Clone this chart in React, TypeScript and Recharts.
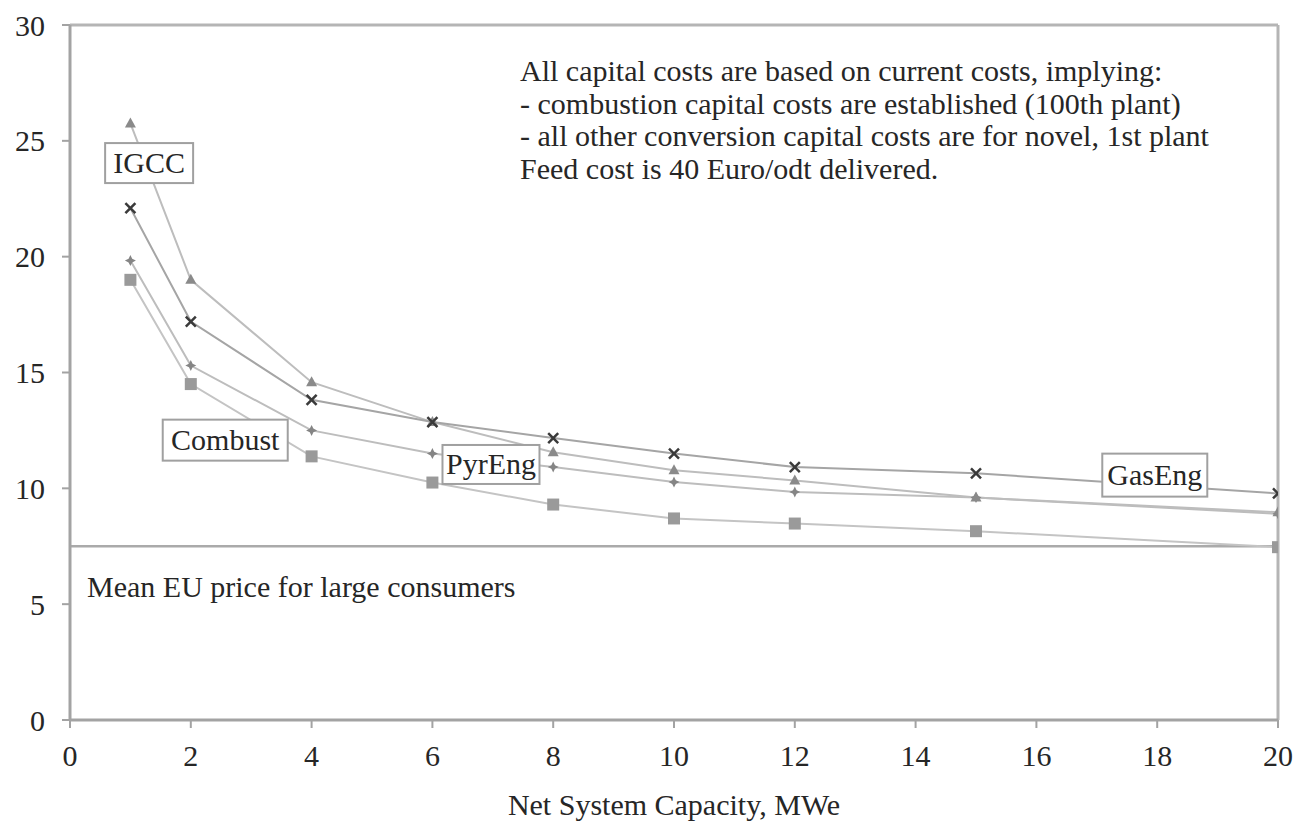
import React from 'react';
import { LineChart, Line, XAxis, YAxis, ReferenceLine, ReferenceDot } from 'recharts';

// ---- data ----
const capacities = [1, 2, 4, 6, 8, 10, 12, 15, 20];
const igccCost = [25.75, 19.0, 14.58, 12.86, 11.56, 10.78, 10.34, 9.6, 8.97];
const gasEngCost = [22.1, 17.2, 13.82, 12.86, 12.17, 11.5, 10.92, 10.65, 9.78];
const pyrEngCost = [19.83, 15.3, 12.5, 11.5, 10.92, 10.27, 9.84, 9.6, 8.9];
const combustCost = [19.0, 14.5, 11.38, 10.25, 9.3, 8.7, 8.48, 8.15, 7.46];
const xTicks = [0, 2, 4, 6, 8, 10, 12, 14, 16, 18, 20];
const yTicks = [0, 5, 10, 15, 20, 25, 30];
const euPrice = 7.5;
const labelNames = ['IGCC', 'Combust', 'PyrEng', 'GasEng'];
const labelX = [1.31, 2.57, 6.97, 17.96];
const labelY = [24.04, 12.08, 11.03, 10.57];
const noteLines = [
  'All capital costs are based on current costs, implying:',
  '- combustion capital costs are established (100th plant)',
  '- all other conversion capital costs are for novel, 1st plant',
  'Feed cost is 40 Euro/odt delivered.',
];
const euLabel = 'Mean EU price for large consumers';
const xTitle = 'Net System Capacity, MWe';

// ---- styles ----
const labelBoxWidth = [88, 125, 97, 105];
const labelBoxHeight = [40, 41, 39, 43];
const FONT = '"Liberation Serif", "Times New Roman", serif';
const TEXT = '#262626';
const AXIS = '#a3a3a3';

const data = capacities.map((x, i) => ({
  x,
  igcc: igccCost[i],
  gasEng: gasEngCost[i],
  pyrEng: pyrEngCost[i],
  combust: combustCost[i],
}));

const TriangleDot = (p: any) => {
  const { cx, cy, key } = p;
  if (cx == null || cy == null) return <g key={key} />;
  return (
    <polygon
      key={key}
      points={`${cx},${cy - 6} ${cx + 5.5},${cy + 4} ${cx - 5.5},${cy + 4}`}
      fill="#8a8a8a"
    />
  );
};

const CrossDot = (p: any) => {
  const { cx, cy, key } = p;
  if (cx == null || cy == null) return <g key={key} />;
  return (
    <g key={key} stroke="#3a3a3a" strokeWidth={2.5}>
      <line x1={cx - 5} y1={cy - 5} x2={cx + 5} y2={cy + 5} />
      <line x1={cx - 5} y1={cy + 5} x2={cx + 5} y2={cy - 5} />
    </g>
  );
};

const StarDot = (p: any) => {
  const { cx, cy, key } = p;
  if (cx == null || cy == null) return <g key={key} />;
  const a = 5.5;
  const b = 1.8;
  return (
    <polygon
      key={key}
      points={`${cx},${cy - a} ${cx + b},${cy - b} ${cx + a},${cy} ${cx + b},${cy + b} ${cx},${cy + a} ${cx - b},${cy + b} ${cx - a},${cy} ${cx - b},${cy - b}`}
      fill="#858585"
    />
  );
};

const SquareDot = (p: any) => {
  const { cx, cy, key } = p;
  if (cx == null || cy == null) return <g key={key} />;
  return <rect key={key} x={cx - 6} y={cy - 6} width={12} height={12} fill="#9a9a9a" />;
};

const makeLabelShape = (i: number) => (p: any) => {
  const { cx, cy } = p;
  if (cx == null || cy == null) return <g />;
  const w = labelBoxWidth[i];
  const h = labelBoxHeight[i];
  return (
    <g>
      <rect x={cx - w / 2} y={cy - h / 2} width={w} height={h} fill="#fff" stroke="#a0a0a0" strokeWidth={2} />
      <text x={cx} y={cy + 10} textAnchor="middle" fontFamily={FONT} fontSize={30} fill={TEXT}>
        {labelNames[i]}
      </text>
    </g>
  );
};

export default function App() {
  return (
    <div style={{ position: 'absolute', left: 0, top: 0, width: 1293, height: 826, background: '#fff', overflow: 'hidden' }}>
      <LineChart width={1293} height={826} data={data} margin={{ top: 25, right: 15, bottom: 0, left: 0 }}>
        <XAxis
          dataKey="x"
          type="number"
          domain={[0, 20]}
          ticks={xTicks}
          interval={0}
          allowDataOverflow
          height={106}
          axisLine={{ stroke: AXIS, strokeWidth: 3 }}
          tickLine={{ stroke: AXIS, strokeWidth: 2 }}
          tickSize={8}
          tickMargin={17}
          tick={{ fontFamily: FONT, fontSize: 30, fill: TEXT }}
          label={{ value: xTitle, position: 'insideBottom', offset: 11, fontFamily: FONT, fontSize: 30, fill: TEXT }}
        />
        <YAxis
          type="number"
          domain={[0, 30]}
          ticks={yTicks}
          interval={0}
          width={70}
          axisLine={{ stroke: AXIS, strokeWidth: 3 }}
          tickLine={{ stroke: AXIS, strokeWidth: 2 }}
          tickSize={8}
          tickMargin={17}
          tick={{ fontFamily: FONT, fontSize: 30, fill: TEXT }}
        />
        <ReferenceLine y={30} stroke="#b5b5b5" strokeWidth={3} />
        <ReferenceLine x={20} stroke="#b5b5b5" strokeWidth={3} />
        <ReferenceLine y={euPrice} stroke="#aaaaaa" strokeWidth={2.5} />
        <Line dataKey="combust" stroke="#c4c4c4" strokeWidth={2} dot={SquareDot} isAnimationActive={false} />
        <Line dataKey="pyrEng" stroke="#bdbdbd" strokeWidth={2} dot={StarDot} isAnimationActive={false} />
        <Line dataKey="igcc" stroke="#bdbdbd" strokeWidth={2} dot={TriangleDot} isAnimationActive={false} />
        <Line dataKey="gasEng" stroke="#a5a5a5" strokeWidth={2} dot={CrossDot} isAnimationActive={false} />
        {labelNames.map((n, i) => (
          <ReferenceDot key={n} x={labelX[i]} y={labelY[i]} r={0} shape={makeLabelShape(i)} />
        ))}
      </LineChart>
      <div
        style={{
          position: 'absolute',
          left: 520,
          top: 55,
          fontFamily: FONT,
          fontSize: 30,
          lineHeight: '32.5px',
          color: TEXT,
          whiteSpace: 'nowrap',
        }}
      >
        {noteLines.map((l) => (
          <div key={l}>{l}</div>
        ))}
      </div>
      <div
        style={{
          position: 'absolute',
          left: 87,
          top: 571,
          fontFamily: FONT,
          fontSize: 30,
          lineHeight: '32.5px',
          color: TEXT,
          whiteSpace: 'nowrap',
        }}
      >
        {euLabel}
      </div>
    </div>
  );
}
